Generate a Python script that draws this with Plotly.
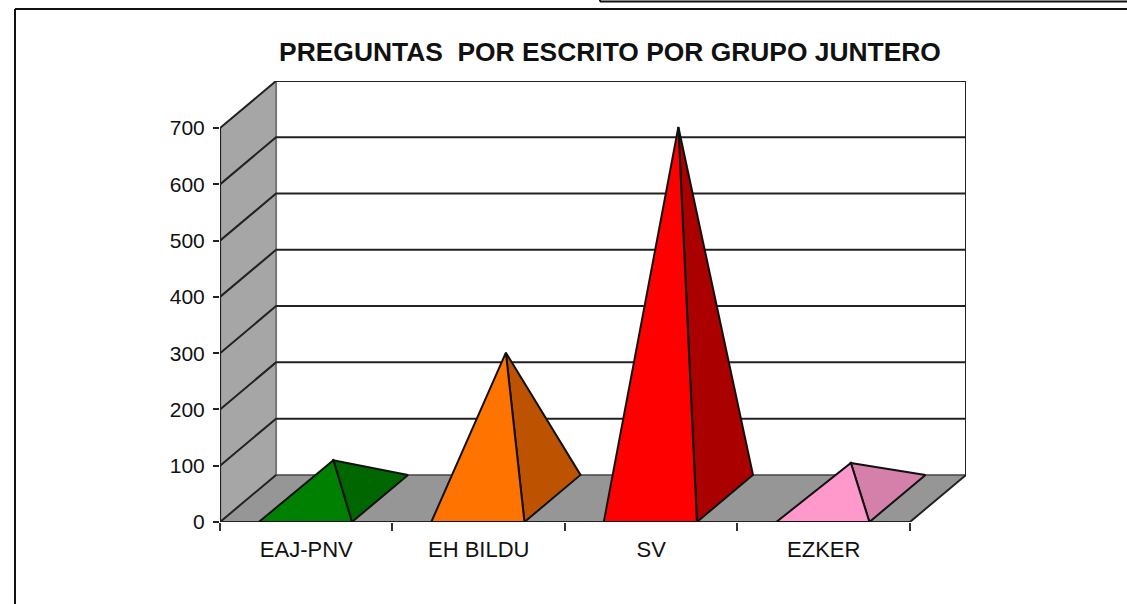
import plotly.graph_objects as go

W, H = 1127, 604
categories = ["EAJ-PNV", "EH BILDU", "SV", "EZKER"]
values = [68, 259, 660, 63]
face_colors = ["#008000", "#FF7300", "#FF0000", "#FF99CC"]
side_colors = ["#006600", "#BD5300", "#AA0000", "#D580AA"]
y_ticks = [0, 100, 200, 300, 400, 500, 600, 700]
TITLE = "PREGUNTAS  POR ESCRITO POR GRUPO JUNTERO"

# pseudo-3D depth, in axis units
DX, DY = 0.325, 83.7
BASE = 0.54
CENTER = 0.495
YMAX = 700
N = len(categories)
INK = "#222222"

fig = go.Figure()

def poly(xs, ys, fill, line="#111111", width=2):
    fig.add_trace(go.Scatter(x=xs, y=ys, mode="lines", fill="toself", fillcolor=fill,
                             line=dict(color=line, width=width), cliponaxis=False,
                             hoverinfo="skip", showlegend=False))

def seg(xs, ys, color=INK, width=2):
    fig.add_trace(go.Scatter(x=xs, y=ys, mode="lines", line=dict(color=color, width=width),
                             cliponaxis=False, hoverinfo="skip", showlegend=False))

# side wall and floor
poly([0, DX, DX, 0, 0], [0, DY, YMAX + DY, YMAX, 0], "#A6A6A6", line="rgba(0,0,0,0)", width=0)
poly([0, N, N + DX, DX, 0], [0, 0, DY, DY, 0], "#969696", line="rgba(0,0,0,0)", width=0)
seg([DX, DX], [DY, YMAX + DY], color="#777777", width=2)
seg([DX, N + DX], [DY, DY], color="#444444", width=1.5)

# gridlines: diagonal on the side wall, horizontal on the back wall
for v in y_ticks:
    if v > 0:
        seg([0, DX, N + DX], [v, v + DY, v + DY])
seg([N + DX, N + DX], [DY, YMAX + DY])
seg([0, DX], [0, DY])
seg([N, N + DX], [0, DY])
seg([0, 0], [0, YMAX], width=2.2)
seg([0, N], [0, 0], width=2.2)

# pyramids
for i, v in enumerate(values):
    left = i + CENTER - BASE / 2
    right = i + CENTER + BASE / 2
    ax = i + CENTER + DX / 2
    ay = v + DY / 2
    poly([right, right + DX, ax, right], [0, DY, ay, 0], side_colors[i])
    poly([left, right, ax, left], [0, 0, ay, 0], face_colors[i])

def frame(x0, y0, x1, y1):
    return dict(type="line", xref="paper", yref="paper", x0=(x0 - 220) / 746, x1=(x1 - 220) / 746,
                y0=(522 - y0) / 441, y1=(522 - y1) / 441, line=dict(color="#111111", width=2))

fig.update_layout(
    width=W, height=H, autosize=False,
    margin=dict(l=220, r=161, t=81, b=82, pad=0),
    paper_bgcolor="white", plot_bgcolor="white", showlegend=False, hovermode=False,
    font=dict(family="Liberation Sans, Arial, sans-serif", color="#111111"),
    title=dict(text=TITLE, xref="container", yref="container", x=610 / W, y=1 - 52 / H,
               xanchor="center", yanchor="middle",
               font=dict(size=26.4, color="#111111", family="Liberation Sans, Arial, sans-serif", weight="bold")),
    xaxis=dict(range=[0, N + DX], tickmode="array",
               tickvals=[i + 0.5 for i in range(N)], ticktext=categories,
               ticks="outside", ticklen=8, tickcolor="rgba(0,0,0,0)", tickfont=dict(size=22),
               showgrid=False, zeroline=False, showline=False,
               minor=dict(tickmode="array", tickvals=list(range(N + 1)), ticks="outside",
                          ticklen=8, tickwidth=1.5, tickcolor="#333333", showgrid=False)),
    yaxis=dict(range=[0, YMAX + DY], tickmode="array", tickvals=y_ticks,
               ticks="outside", ticklen=6, tickwidth=1.5, tickcolor=INK, tickfont=dict(size=21),
               ticklabelstandoff=4, showgrid=False, zeroline=False, showline=False),
    shapes=[frame(15, 9, 1127, 9), frame(15, 9, 15, 604),
            frame(600, 0, 600, 1.5), frame(600, 1.5, 1127, 1.5)],
)

fig.write_html("out.html", config=dict(displayModeBar=False),
               post_script="document.body.style.margin='0';document.documentElement.style.overflow='hidden';")
